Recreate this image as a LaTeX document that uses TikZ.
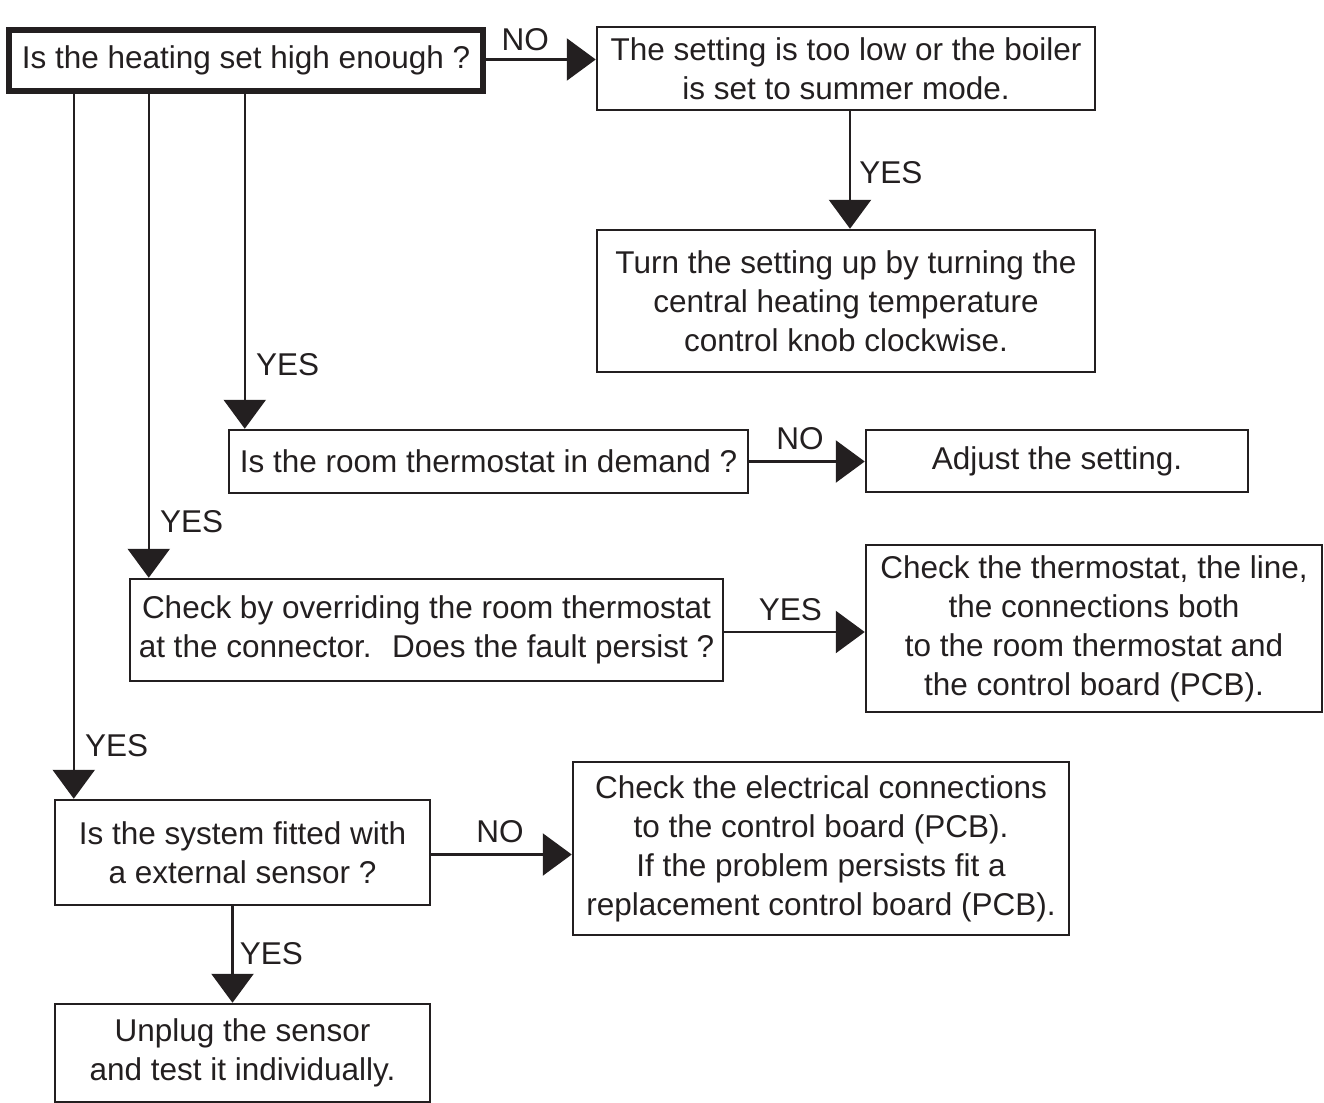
\documentclass[tikz,border=0pt]{standalone}
\usepackage{fontspec}
\setmainfont{Liberation Sans}
\usetikzlibrary{arrows.meta,calc}
\definecolor{ink}{HTML}{231F20}
\begin{document}
\begin{tikzpicture}[x=1pt,y=-1pt,
  every node/.style={font=\fontsize{31.5}{39}\selectfont, text=ink},
  box/.style={draw=ink, line width=2.5pt, inner sep=0pt, align=center},
  thickbox/.style={box, line width=5.5pt},
  arr/.style={draw=ink, line width=2.5pt, -{Triangle[width=42pt,length=29pt]}},
  lab/.style={inner sep=0pt}]
\useasboundingbox (0,0) rectangle (1324,1102);
\node[thickbox, minimum width=474, minimum height=61] (b1) at (246,60.5) {Is the heating set high enough ?};
\node[box, minimum width=498, minimum height=83] (b2) at (846,68.5) {The setting is too low or the boiler\\is set to summer mode.};
\node[box, minimum width=498, minimum height=142] (b3) at (846,301) {Turn the setting up by turning the\\central heating temperature\\control knob clockwise.};
\node[box, minimum width=519, minimum height=63] (b4) at (488.5,461.5) {Is the room thermostat in demand ?};
\node[box, minimum width=382, minimum height=62] (b5) at (1057,461) {Adjust the setting.};
\node[box, minimum width=593, minimum height=102] (b6) at (426.5,630) {Check by overriding the room thermostat\\at the connector.~ Does the fault persist ?};
\node[box, minimum width=456, minimum height=167] (b7) at (1094,628.5) {Check the thermostat, the line,\\the connections both\\to the room thermostat and\\the control board (PCB).};
\node[box, minimum width=375, minimum height=105] (b8) at (242.5,852.5) {Is the system fitted with\\a external sensor ?};
\node[box, minimum width=496, minimum height=173] (b9) at (821,848.5) {Check the electrical connections\\to the control board (PCB).\\If the problem persists fit a\\replacement control board (PCB).};
\node[box, minimum width=375, minimum height=98] (b10) at (242.5,1053) {Unplug the sensor\\and test it individually.};

% connectors
\coordinate (p1) at ([yshift=1]b1.east);
\draw[arr] (p1) -- (p1 -| b2.west) node[lab, pos=0.36, above=7pt] {NO};
\coordinate (p2) at ([xshift=4]b2.south);
\draw[arr] (p2) -- (p2 |- b3.north) node[lab, pos=0.52, right=8pt] {YES};
\coordinate (q4) at ([xshift=17]b4.north west);
\draw[arr] (q4 |- b1.south) -- (q4) node[lab, pos=0.81, right=10pt] {YES};
\coordinate (q6) at ([xshift=20]b6.north west);
\draw[arr] (q6 |- b1.south) -- (q6) node[lab, pos=0.885, right=10pt] {YES};
\coordinate (q8) at ([xshift=20]b8.north west);
\draw[arr] (q8 |- b1.south) -- (q8) node[lab, pos=0.925, right=10pt] {YES};
\draw[arr] (b4.east) -- (b4.east -| b5.west) node[lab, pos=0.44, above=10pt] {NO};
\coordinate (p6) at ([yshift=-2]b6.east);
\draw[arr] (p6) -- (p6 -| b7.west) node[lab, pos=0.47, above=10pt] {YES};
\coordinate (p8) at ([yshift=-2]b8.east);
\draw[arr] (p8) -- (p8 -| b9.west) node[lab, pos=0.49, above=10pt] {NO};
\coordinate (p10) at ([xshift=-10]b8.south);
\draw[arr] (p10) -- (p10 |- b10.north) node[lab, pos=0.49, right=6pt] {YES};
\end{tikzpicture}
\end{document}
